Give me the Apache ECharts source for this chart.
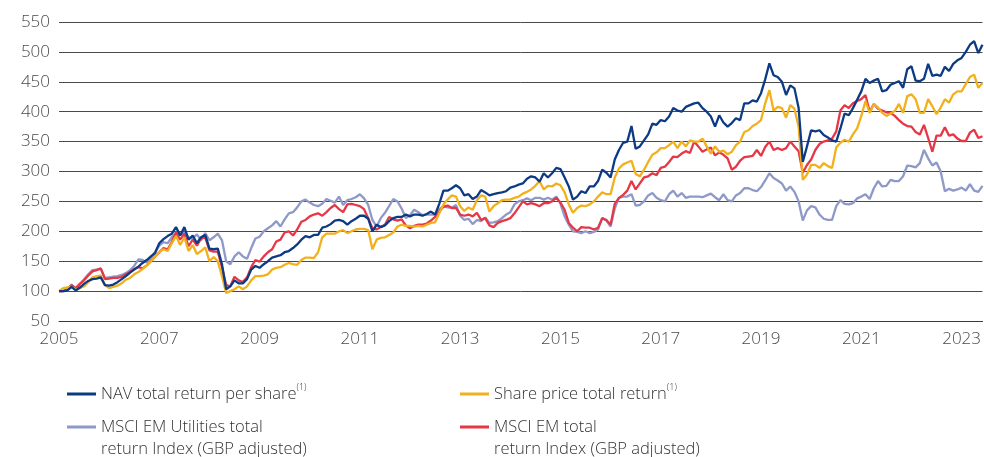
<!DOCTYPE html>
<html>
<head>
<meta charset="utf-8">
<script src="https://cdn.jsdelivr.net/npm/echarts@6/dist/echarts.min.js"></script>
<style>
html,body{margin:0;padding:0;background:#fff;}
#chart{width:984px;height:457px;}
</style>
</head>
<body>
<div id="chart"></div>
<script>
// Monthly categories Jan 2005 .. Jun 2023
var months = [];
for (var y = 2005; y <= 2023; y++) {
  for (var mo = 1; mo <= 12; mo++) {
    if (y === 2023 && mo > 6) break;
    months.push(y + '-' + (mo < 10 ? '0' + mo : mo));
  }
}
var yTicks = [50, 100, 150, 200, 250, 300, 350, 400, 450, 500, 550];

var navTotalReturn = [
100,100,101,107,101,106,112,117,120,121,
123,110,109,111,115,120,125,131,136,141,
147,152,158,164,180,187,192,196,207,193,
207,186,193,180,190,194,171,170,171,145,
103,108,118,113,113,120,136,142,139,145,
150,156,158,160,165,167,172,178,186,192,
190,194,194,206,208,212,218,219,217,211,
217,221,226,226,221,200,211,207,210,217,
222,224,224,228,225,228,228,226,229,233,
228,246,268,268,272,277,272,260,262,254,
258,269,265,260,262,264,265,267,273,275,
278,280,288,292,290,283,297,290,297,306,
304,290,275,253,258,267,264,275,275,284,
303,298,290,320,336,348,350,376,338,342,
352,362,380,378,386,384,392,406,402,400,
408,411,414,415,406,400,392,375,394,382,
375,381,389,386,414,414,419,417,431,454,
481,461,458,450,428,444,439,406,316,342,
369,367,369,361,357,352,350,372,397,394,
406,420,434,455,448,452,455,434,436,445,
448,451,440,471,476,452,451,455,480,460,
462,460,475,468,480,486,490,500,512,518,
498,512];

var sharePriceTotalReturn = [
100,105,106,107,103,105,108,115,123,125,
126,110,105,107,109,113,119,122,128,132,
137,143,150,158,166,170,167,180,192,177,
190,167,177,162,167,173,150,157,150,125,
97,100,103,108,103,108,118,125,125,126,
128,136,139,140,144,147,145,144,152,156,
156,155,165,190,196,196,196,200,202,197,
200,203,204,204,202,170,186,189,190,194,
198,208,211,209,209,208,209,208,211,214,
215,230,245,253,260,258,242,234,240,236,
252,260,258,233,242,247,252,253,253,256,
258,263,266,270,276,284,270,276,275,280,
277,265,245,231,239,243,242,245,250,258,
265,262,262,290,305,312,315,318,296,292,
303,316,328,332,339,339,344,350,339,350,
342,352,350,350,355,342,330,342,333,335,
329,333,344,350,366,369,376,380,386,414,
436,402,408,406,390,411,405,375,286,295,
311,311,306,314,309,306,340,348,353,350,
362,372,393,418,398,413,407,398,393,397,
401,413,398,426,429,421,398,398,421,409,
396,407,421,415,429,434,434,446,458,462,
440,448];

var msciEmUtilities = [
100,100,101,111,104,112,120,128,135,136,
137,122,123,124,125,127,130,135,142,153,
152,148,155,165,176,182,180,190,198,194,
198,190,188,195,185,197,185,190,196,185,
150,145,158,165,158,154,172,188,191,200,
205,210,217,208,220,230,232,240,250,253,
248,244,242,246,254,251,248,258,244,252,
254,257,262,255,244,219,208,222,231,242,
254,250,238,222,227,236,232,227,228,228,
228,237,242,240,239,244,226,219,221,212,
219,217,223,214,215,217,222,228,232,245,
250,252,255,252,256,256,253,256,253,258,
246,225,211,200,199,197,200,197,199,203,
222,218,208,238,256,258,258,262,243,244,
250,260,264,256,252,250,262,268,258,264,
256,258,258,258,257,260,263,257,252,262,
252,250,260,264,272,272,269,267,274,285,
297,289,285,280,268,275,266,250,218,235,
242,240,228,221,219,219,242,252,246,245,
247,255,258,262,254,272,284,275,276,286,
284,284,292,310,309,307,314,336,322,310,
315,300,267,271,268,270,273,268,279,268,
266,276];

var msciEm = [
100,100,103,110,105,112,118,126,133,135,
138,120,121,122,122,124,128,132,137,140,
138,143,150,158,165,172,170,182,198,186,
196,175,186,176,188,190,168,166,166,140,
110,108,124,118,115,123,140,152,149,158,
165,170,183,186,198,200,193,203,216,219,
225,228,230,226,232,239,244,237,232,245,
246,244,242,237,222,205,203,207,211,224,
220,218,220,210,205,209,211,211,213,218,
224,233,241,243,239,239,228,226,228,225,
231,219,222,210,207,214,217,219,222,230,
240,250,245,247,245,242,247,247,250,256,
248,236,214,206,200,207,206,206,203,206,
222,219,211,246,256,261,268,284,270,280,
290,292,297,294,306,308,316,325,324,330,
334,331,350,342,333,337,340,327,332,328,
322,303,308,318,324,325,326,336,326,341,
350,336,339,336,339,350,342,334,298,311,
320,336,346,350,352,355,367,402,411,406,
414,418,421,428,400,413,405,402,399,398,
393,386,380,376,375,366,362,378,356,333,
360,360,374,360,362,355,351,351,365,370,
356,359];

var seriesNames = [
  'NAV total return per share',
  'Share price total return',
  'MSCI EM Utilities total return Index (GBP adjusted)',
  'MSCI EM total return Index (GBP adjusted)'
];
var legendLabels = {};
legendLabels[seriesNames[0]] = 'NAV total return per share{sup|(1)}';
legendLabels[seriesNames[1]] = 'Share price total return{sup|(1)}';
legendLabels[seriesNames[2]] = 'MSCI EM Utilities total\nreturn Index (GBP adjusted)';
legendLabels[seriesNames[3]] = 'MSCI EM total\nreturn Index (GBP adjusted)';

var colors = {
  nav: '#0c3a84',
  share: '#f2b11c',
  util: '#8e99c8',
  em: '#e63746'
};

var FONT = '"Open Sans", "Noto Sans", sans-serif';
var legendText = {
  fontFamily: FONT, fontSize: 16.5, fontWeight: 300, color: '#333333',
  lineHeight: 22, padding: [0, 0, 0, 0],
  rich: { sup: { fontFamily: FONT, fontSize: 9, fontWeight: 300, color: '#333333', verticalAlign: 'top', lineHeight: 12 } }
};
var twoLineIcon = 'path://M0,0L29,0L29,3L0,3Z M0,25L0.01,25Z';
function fmt(n){ return legendLabels[n]; }

var chart = echarts.init(document.getElementById('chart'), null, {renderer: 'canvas'});
chart.setOption({
  animation: false,
  backgroundColor: '#ffffff',
  grid: { left: 59, right: 0, top: 22, bottom: 136, containLabel: false },
  xAxis: {
    type: 'category',
    data: months,
    boundaryGap: false,
    axisLine: { show: true, lineStyle: { color: '#3a3a3a', width: 1 } },
    axisTick: { show: false },
    axisLabel: {
      interval: function (i) { return i % 24 === 0; },
      formatter: function (v) { return v.slice(0, 4); },
      fontFamily: FONT, fontSize: 17, fontWeight: 300, color: '#4a4a4a', margin: 10
    },
    splitLine: { show: false }
  },
  yAxis: {
    type: 'value',
    min: yTicks[0], max: yTicks[yTicks.length - 1], interval: 50,
    axisLine: { show: false },
    axisTick: { show: false },
    axisLabel: { fontFamily: FONT, fontSize: 17, fontWeight: 300, color: '#4a4a4a', margin: 9 },
    splitLine: { show: true, lineStyle: { color: '#4a4a4a', width: 1 } }
  },
  legend: [
    { data: [seriesNames[0]], left: 62, top: 378, icon: 'rect', itemWidth: 29, itemHeight: 3, selectedMode: false, formatter: fmt, textStyle: legendText },
    { data: [seriesNames[1]], left: 455, top: 378, icon: 'rect', itemWidth: 29, itemHeight: 3, selectedMode: false, formatter: fmt, textStyle: legendText },
    { data: [seriesNames[2]], left: 62, top: 411, icon: twoLineIcon, itemWidth: 29, itemHeight: 25, selectedMode: false, formatter: fmt, textStyle: legendText },
    { data: [seriesNames[3]], left: 455, top: 411, icon: twoLineIcon, itemWidth: 29, itemHeight: 25, selectedMode: false, formatter: fmt, textStyle: legendText }
  ],
  series: [
    { name: seriesNames[2], type: 'line', data: msciEmUtilities, showSymbol: false, symbol: 'none', lineStyle: { color: colors.util, width: 2.3 }, itemStyle: { color: colors.util }, z: 2 },
    { name: seriesNames[3], type: 'line', data: msciEm, showSymbol: false, symbol: 'none', lineStyle: { color: colors.em, width: 2.3 }, itemStyle: { color: colors.em }, z: 3 },
    { name: seriesNames[1], type: 'line', data: sharePriceTotalReturn, showSymbol: false, symbol: 'none', lineStyle: { color: colors.share, width: 2.3 }, itemStyle: { color: colors.share }, z: 4 },
    { name: seriesNames[0], type: 'line', data: navTotalReturn, showSymbol: false, symbol: 'none', lineStyle: { color: colors.nav, width: 2.3 }, itemStyle: { color: colors.nav }, z: 5 }
  ]
});
</script>
</body>
</html>
